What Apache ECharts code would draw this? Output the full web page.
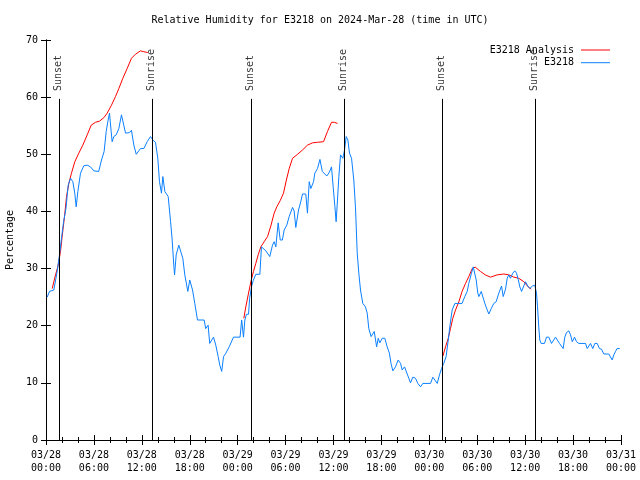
<!DOCTYPE html>
<html>
<head>
<meta charset="utf-8">
<script src="https://cdn.jsdelivr.net/npm/echarts@6/dist/echarts.min.js"></script>
<style>html,body{margin:0;padding:0;background:#fff}#c{width:640px;height:480px}</style>
</head>
<body>
<div id="c"></div>
<script>
// hours since 2024-03-28 00:00 UTC
var xTickLabels = ['03/28\n00:00','03/28\n06:00','03/28\n12:00','03/28\n18:00','03/29\n00:00','03/29\n06:00','03/29\n12:00','03/29\n18:00','03/30\n00:00','03/30\n06:00','03/30\n12:00','03/30\n18:00','03/31\n00:00'];

var obsHours = [0.15,0.44,0.98,1.4,1.69,1.94,2.2,2.5,2.78,3.07,3.36,3.6,3.78,3.99,4.32,4.74,5.16,5.57,5.99,6.6,6.95,7.28,7.54,7.74,7.95,8.16,8.28,8.49,8.79,9.12,9.45,9.7,9.96,10.2,10.46,10.7,11.0,11.3,11.83,12.25,12.67,13.09,13.38,13.71,14.0,14.21,14.46,14.63,14.88,15.3,15.6,15.8,16.0,16.1,16.3,16.63,16.84,17.13,17.38,17.76,18.0,18.35,18.63,18.97,19.8,20.0,20.3,20.5,20.72,20.97,21.26,21.56,21.76,22.0,22.23,22.52,22.94,23.48,24.3,24.5,24.73,24.9,25.1,25.36,25.5,25.73,25.95,26.27,26.78,26.98,27.23,27.53,28.02,28.36,28.57,28.78,29.07,29.33,29.6,29.82,30.15,30.45,30.87,31.07,31.28,31.62,31.9,32.12,32.53,32.74,32.96,33.16,33.5,33.66,34.0,34.3,34.6,34.84,35.16,35.46,35.75,35.96,36.16,36.33,36.46,36.67,36.88,37.17,37.38,37.59,37.8,38.0,38.26,38.54,38.75,38.97,39.17,39.38,39.67,40.0,40.22,40.42,40.71,41.1,41.4,41.6,41.8,42.1,42.43,42.72,43.0,43.2,43.43,43.76,44.1,44.4,44.6,44.9,45.14,45.43,45.64,45.93,46.27,46.56,46.9,47.18,48.15,48.44,48.69,48.99,49.27,49.53,49.8,50.1,50.37,50.56,50.86,51.2,52.1,52.44,52.74,52.94,53.28,53.5,53.66,53.87,54.07,54.2,54.5,54.7,54.95,55.25,55.45,55.75,56.07,56.37,56.7,57.04,57.25,57.54,57.75,57.95,58.16,58.45,58.7,58.92,59.13,59.33,59.55,59.76,60.04,60.33,60.58,60.92,61.2,61.3,61.42,61.55,61.7,61.83,62.0,62.42,62.67,62.96,63.3,63.5,63.8,64.0,64.3,64.55,64.76,64.96,65.18,65.47,65.68,65.9,66.18,66.43,66.72,67.56,67.77,67.97,68.18,68.47,68.72,69.02,69.3,69.56,69.85,70.47,70.7,70.9,71.1,71.3,71.5,71.84];
var obsValues = [25.0,26.0,26.25,29.5,32.4,35.3,38.2,40.5,44.6,45.8,45.2,43.2,40.8,43.5,46.7,48.0,48.1,47.8,47.1,47.0,49.0,50.5,54.0,55.7,57.2,54.0,52.2,53.1,53.4,54.5,56.9,57.2,53.7,53.4,53.8,54.2,51.6,50.0,51.0,51.0,52.2,53.1,52.5,52.1,49.3,45.2,43.2,46.1,43.5,42.6,38.2,35.0,30.6,28.9,32.4,34.1,33.8,31.8,28.9,26.0,28.0,26.25,23.9,21.0,21.0,19.5,20.1,16.9,16.9,18.0,16.6,14.6,13.1,12.0,14.6,15.2,16.3,18.0,18.0,21.0,18.0,21.0,22.0,22.0,24.8,26.8,27.9,29.0,29.0,33.8,34.1,33.1,32.1,34.1,34.7,33.8,38.0,35.0,35.0,36.75,37.6,39.1,40.7,40.1,37.2,40.25,41.7,43.05,43.05,39.7,45.2,44.0,45.2,46.7,47.5,49.1,47.0,47.0,46.2,46.8,47.8,44.3,41.1,38.2,41.1,46.1,49.9,49.3,50.75,53.1,52.5,50.2,49.3,45.5,40.8,32.7,29.2,26.25,23.9,23.3,22.2,19.5,18.1,19.0,16.3,17.8,17.0,17.8,17.8,16.3,15.2,13.4,12.1,12.8,14.0,13.4,12.25,12.8,12.8,10.8,10.0,11.0,10.8,9.9,9.3,9.9,9.9,11.0,11.0,9.9,11.4,12.5,13.4,14.6,17.5,19.8,22.75,23.9,23.9,25.1,26.0,27.4,29.2,30.3,30.6,28.0,25.7,25.1,26.0,25.7,23.9,22.75,22.05,23.0,23.9,24.2,25.7,26.95,25.1,26.4,28.3,28.9,28.3,29.2,29.6,29.2,28.1,26.8,26.0,26.0,27.7,26.95,26.5,26.95,27.1,26.8,25.7,23.3,19.8,17.5,16.9,16.9,18.0,18.0,16.9,16.9,18.0,18.0,16.9,16.6,16.0,18.0,18.8,19.1,18.4,17.2,18.0,17.2,16.9,16.9,16.0,16.0,16.9,16.0,16.9,16.9,16.0,15.9,15.05,15.05,14.9,14.0,14.9,15.45,16.0,16.0];

var ana1Hours = [0.78,1.19,1.48,1.82,2.02,2.32,2.57,2.86,3.19,3.61,4.11,4.61,5.16,5.66,6.2,6.7,7.24,7.66,8.2,8.7,9.12,9.62,10.16,10.7,11.2,11.83,12.25,12.75];
var ana1Values = [26.5,28.9,30.3,33.0,35.6,39.1,42.6,44.9,46.7,48.7,50.2,51.6,53.4,55.1,55.6,55.8,56.4,57.2,58.6,60.1,61.5,63.3,65.0,66.8,67.5,68.1,67.95,67.8];
var ana2Hours = [24.77,25.02,25.32,25.65,25.98,26.27,26.57,26.9,27.32,27.74,28.15,28.57,28.9,29.33,29.74,30.1,30.45,30.87,31.5,32.12,32.74,33.37,34.0,34.75,35.25,35.75,36.1,36.5];
var ana2Values = [21.3,23.3,25.4,27.7,29.5,30.9,32.4,33.8,34.7,35.6,37.45,39.7,40.8,41.9,43.2,45.5,47.5,49.3,50.0,50.75,51.6,52.0,52.1,52.2,54.0,55.6,55.6,55.4];
var ana3Hours = [49.7,50.03,50.37,50.65,50.94,51.28,51.7,52.1,52.53,52.94,53.37,53.75,54.0,54.4,55.0,55.66,56.5,57.33,57.95,58.58,59.2,59.83,60.38,60.76];
var ana3Values = [14.7,16.3,17.8,19.5,21.3,22.75,24.2,26.0,27.4,28.6,30.0,30.25,30.2,29.5,28.9,28.5,28.9,29.05,28.9,28.5,28.3,27.7,26.8,26.4];

var sunHours = [1.6,13.25,25.65,37.29,49.56,61.21];
var sunLabels = ['Sunset','Sunrise','Sunset','Sunrise','Sunset','Sunrise'];
var sunLineTop = 59.7;
var sunLabelBase = 60.9;

function pairs(h, v){ return h.map(function(t,i){ return [t, v[i]]; }); }

var FONT = 'DejaVu Sans Mono';
var RED = '#ff0000', BLUE = '#0a80ff';

var chart = echarts.init(document.getElementById('c'), null, {renderer:'canvas'});

function anaSeries(h, v){
  return {name:'E3218 Analysis', type:'line', data:pairs(h,v), symbol:'none', showSymbol:false,
    lineStyle:{color:RED,width:1}, itemStyle:{color:RED}, z:2};
}

var xCommon = {
  type:'value', min:0, max:72, interval:6,
  axisLine:{show:true, lineStyle:{color:'#000',width:1}},
  axisTick:{show:true, inside:true, length:5, lineStyle:{color:'#000'}},
  minorTick:{show:true, splitNumber:3, length:3, lineStyle:{color:'#000'}},
  splitLine:{show:false}, minorSplitLine:{show:false}
};
var yCommon = {
  type:'value', min:0, max:70, interval:10,
  axisLine:{show:true, lineStyle:{color:'#000',width:1}},
  axisTick:{show:true, inside:true, length:5, lineStyle:{color:'#000'}},
  splitLine:{show:false}
};

var option = {
  animation:false,
  backgroundColor:'#fff',
  title:{text:'Relative Humidity for E3218 on 2024-Mar-28 (time in UTC)', left:'center', top:10,
    textStyle:{fontFamily:FONT, fontSize:10, fontWeight:'normal', color:'#000'}},
  legend:{data:['E3218 Analysis','E3218'], orient:'vertical', right:30, top:44, align:'right', padding:0,
    icon:'rect', itemWidth:29, itemHeight:1, itemGap:0.7,
    textStyle:{fontFamily:FONT, fontSize:10, lineHeight:12, color:'#000', padding:[0,2,0,0]}},
  grid:{left:46, right:19, top:40, bottom:40, containLabel:false, outerBoundsMode:'none'},
  xAxis:[
    Object.assign({}, xCommon, {position:'bottom',
      axisLabel:{show:true, color:'#000', fontFamily:FONT, fontSize:10, lineHeight:13, margin:9,
        showMinLabel:true, showMaxLabel:true, hideOverlap:false,
        formatter:function(v){ return xTickLabels[Math.round(v/6)]; }}}),
    Object.assign({}, xCommon, {position:'top', axisLabel:{show:false}})
  ],
  yAxis:[
    Object.assign({}, yCommon, {position:'left', name:'Percentage', nameLocation:'middle', nameGap:30, nameRotate:90,
      nameTextStyle:{fontFamily:FONT, fontSize:10, color:'#000'},
      axisLabel:{show:true, color:'#000', fontFamily:FONT, fontSize:10, margin:8}}),
    Object.assign({}, yCommon, {position:'right', axisLabel:{show:false}})
  ],
  series:[
    anaSeries(ana1Hours, ana1Values),
    anaSeries(ana2Hours, ana2Values),
    anaSeries(ana3Hours, ana3Values),
    {name:'E3218', type:'line', data:pairs(obsHours, obsValues), symbol:'none', showSymbol:false,
      lineStyle:{color:BLUE,width:1}, itemStyle:{color:BLUE}, z:3},
    {type:'line', data:[], silent:true,
      markLine:{silent:true, symbol:['none','none'], animation:false, label:{show:false},
        lineStyle:{color:'#000', width:1, type:'solid'},
        data: sunHours.map(function(t){ return [{coord:[t,0]},{coord:[t,sunLineTop]}]; })}},
    {type:'scatter', silent:true, symbolSize:0, z:4,
      data: sunHours.map(function(t){ return [t, sunLabelBase]; }),
      label:{show:true, position:'inside', rotate:90, align:'left', verticalAlign:'middle', offset:[1,0],
        fontFamily:FONT, fontSize:10, color:'#000',
        formatter:function(p){ return sunLabels[p.dataIndex]; }}}
  ]
};
chart.setOption(option);
</script>
</body>
</html>
